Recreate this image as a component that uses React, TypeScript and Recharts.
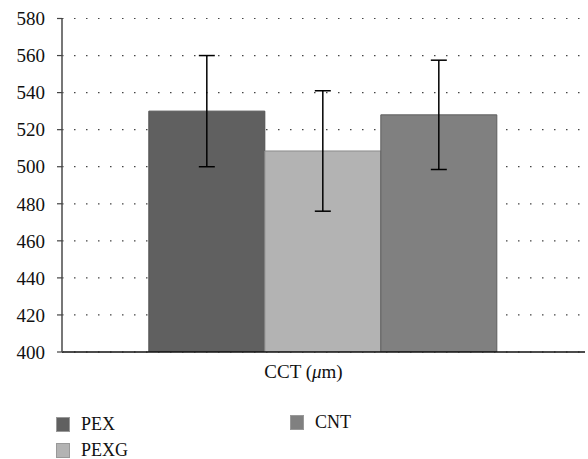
import React from "react";
import { BarChart, Bar, XAxis, YAxis, CartesianGrid, ErrorBar } from "recharts";

const categories = ["CCT"];
const pexValues = [530];
const pexErrors = [30];
const pexgValues = [508.5];
const pexgErrors = [32.5];
const cntValues = [528];
const cntErrors = [29.5];
const yTicks = [400, 420, 440, 460, 480, 500, 520, 540, 560, 580];

const data = categories.map((c, i) => ({
  name: c,
  PEX: pexValues[i],
  pexErr: pexErrors[i],
  PEXG: pexgValues[i],
  pexgErr: pexgErrors[i],
  CNT: cntValues[i],
  cntErr: cntErrors[i],
}));

const FONT = "Liberation Serif, DejaVu Serif, serif";

const XTick = (props: any) => {
  const { x, y } = props;
  return (
    <text x={x} y={y} dx={-20} dy={18} textAnchor="middle" fontFamily={FONT} fontSize={19} fill="#111">
      CCT (<tspan fontStyle="italic">μ</tspan>m)
    </text>
  );
};

const legendItems = [
  { name: "PEX", color: "#606060", left: 56, top: 416 },
  { name: "PEXG", color: "#b3b3b3", left: 56, top: 442 },
  { name: "CNT", color: "#808080", left: 290, top: 414 },
];

export default function App() {
  return (
    <div style={{ position: "absolute", left: 0, top: 0, width: 588, height: 459, background: "#fff", fontFamily: FONT }}>
      <BarChart
        width={588}
        height={459}
        data={data}
        margin={{ top: 18.5, right: 3, left: 0, bottom: 77 }}
        barCategoryGap="16.6%"
        barGap={0}
        style={{ fontFamily: FONT }}
      >
        <CartesianGrid
          vertical={false}
          stroke="#444"
          strokeDasharray="1.5 10.5"
          strokeWidth={1.2}
        />
        <XAxis
          dataKey="name"
          height={30}
          tick={<XTick />}
          tickLine={false}
          axisLine={{ stroke: "#111", strokeWidth: 1.5 }}
        />
        <YAxis
          width={62}
          domain={[400, 580]}
          ticks={yTicks}
          interval={0}
          allowDataOverflow
          tickSize={5}
          tickMargin={12}
          tickLine={{ stroke: "#444", strokeWidth: 1.2 }}
          axisLine={{ stroke: "#555", strokeWidth: 1.6 }}
          tick={{ fontFamily: FONT, fontSize: 19, fill: "#111" }}
        />
        <Bar dataKey="PEX" fill="#606060" stroke="#505050" strokeWidth={1} isAnimationActive={false}>
          <ErrorBar dataKey="pexErr" width={8} stroke="#000" strokeWidth={1.5} />
        </Bar>
        <Bar dataKey="PEXG" fill="#b3b3b3" stroke="#8a8a8a" strokeWidth={1} isAnimationActive={false}>
          <ErrorBar dataKey="pexgErr" width={8} stroke="#000" strokeWidth={1.5} />
        </Bar>
        <Bar dataKey="CNT" fill="#808080" stroke="#5e5e5e" strokeWidth={1} isAnimationActive={false}>
          <ErrorBar dataKey="cntErr" width={8} stroke="#000" strokeWidth={1.5} />
        </Bar>
      </BarChart>
      {legendItems.map((it) => (
        <div
          key={it.name}
          style={{
            position: "absolute",
            left: it.left,
            top: it.top,
            display: "flex",
            alignItems: "center",
            fontFamily: FONT,
            fontSize: 18,
            color: "#111",
            lineHeight: "16px",
          }}
        >
          <span
            style={{
              display: "inline-block",
              width: 12,
              height: 13,
              background: it.color,
              border: "1px solid #999",
              marginRight: 11,
            }}
          />
          <span>{it.name}</span>
        </div>
      ))}
    </div>
  );
}
